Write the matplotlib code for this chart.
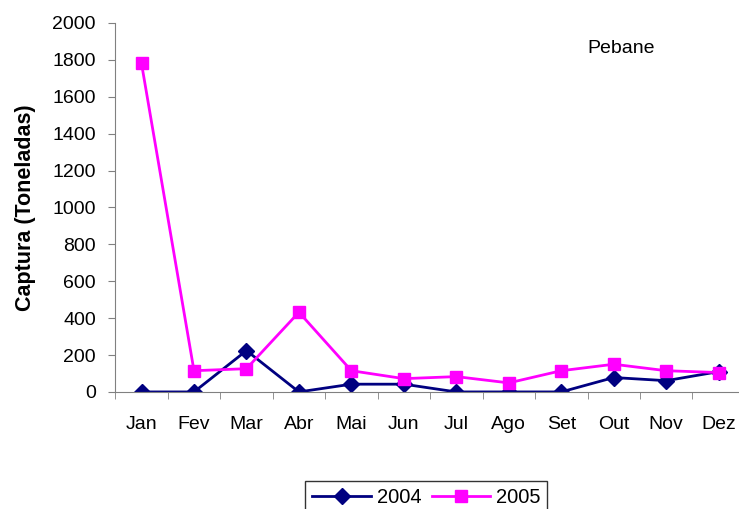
import matplotlib.pyplot as plt

months = ['Jan', 'Fev', 'Mar', 'Abr', 'Mai', 'Jun', 'Jul', 'Ago', 'Set', 'Out', 'Nov', 'Dez']
catch_2004 = [0, 0, 224, 0, 42, 42, 0, 0, 0, 78, 61, 110]
catch_2005 = [1780, 115, 126, 432, 115, 72, 83, 49, 115, 150, 115, 105]

plt.rcParams['font.family'] = ['Liberation Sans', 'DejaVu Sans']

fig = plt.figure(figsize=(7.39, 5.09), dpi=100)
ax = fig.add_axes([0.156, 0.23, 0.852, 0.725])

x = range(len(months))
ax.plot(x, catch_2004, color='#000080', marker='D', markersize=8, linewidth=2, label='2004')
ax.plot(x, catch_2005, color='#FF00FF', marker='s', markersize=9, linewidth=2, label='2005')

ax.set_xlim(-0.5, len(months) - 0.5)
ax.set_ylim(0, 2000)
ax.set_yticks(range(0, 2001, 200))
ax.set_xticks(list(x))
ax.set_xticklabels(months)
ax.set_xticks([i + 0.5 for i in range(-1, len(months))], minor=True)
ax.tick_params(axis='x', which='major', length=0, pad=17, labelsize=14)
ax.tick_params(axis='x', which='minor', length=5, color='#808080')
ax.tick_params(axis='y', length=5, color='#808080', labelsize=14, pad=9)

for side in ['top', 'right']:
    ax.spines[side].set_visible(False)
for side in ['left', 'bottom']:
    ax.spines[side].set_color('#808080')

ax.set_ylabel('Captura (Toneladas)', fontsize=15.5, fontweight='bold', labelpad=12)
ax.text(0.75, 0.919, 'Pebane', transform=ax.transAxes, fontsize=14)

leg = fig.legend(loc='center', bbox_to_anchor=(0.577, 0.022), ncol=2, fontsize=14.5,
                 frameon=True, fancybox=False, edgecolor='black', handlelength=2.9,
                 columnspacing=0.5, handletextpad=0.3, borderpad=0.35)
leg.get_frame().set_linewidth(1)

fig.savefig('out.png', dpi=100)
